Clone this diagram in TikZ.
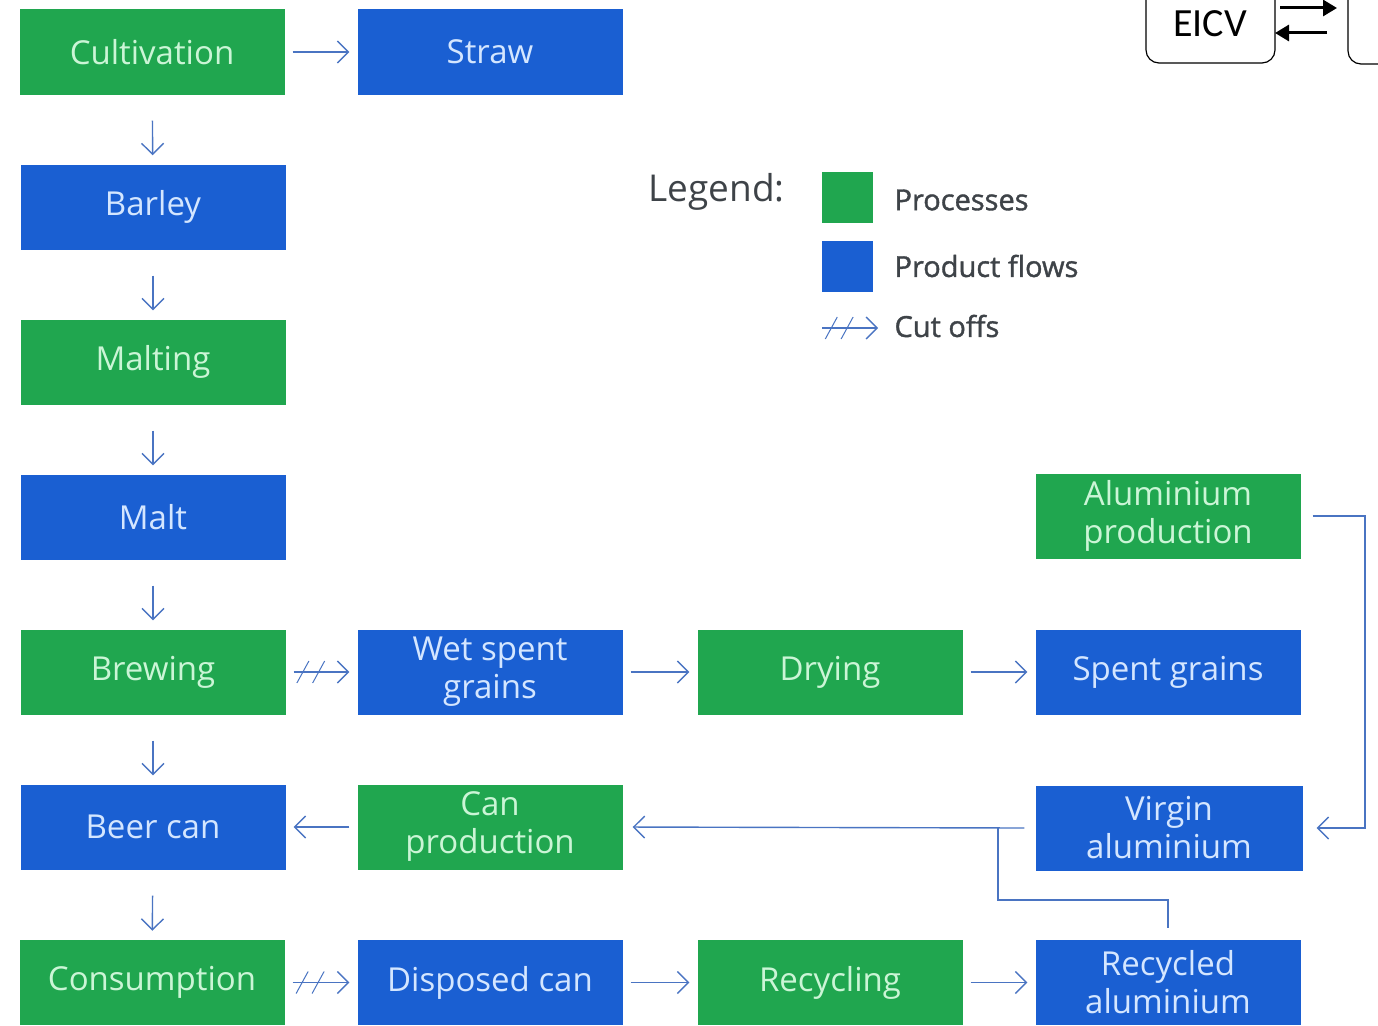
\documentclass[tikz,border=0pt]{standalone}
\usepackage{fontspec}
\setmainfont{Open Sans}
\newfontfamily\legfont[FakeBold=1.3]{Open Sans}
\newfontfamily\calibrilike{Carlito}
\usetikzlibrary{arrows.meta,decorations.markings}
\definecolor{procgreen}{HTML}{20A64F}
\definecolor{flowblue}{HTML}{1A5FD2}
\definecolor{proctext}{HTML}{CBF5D6}
\definecolor{flowtext}{HTML}{D4E6FF}
\definecolor{linkblue}{HTML}{4A74C2}
\definecolor{legendgray}{HTML}{3E4348}
\tikzset{
  box/.style={minimum width=265pt, minimum height=85pt, inner sep=0pt,
    align=center, font=\fontsize{33}{38}\selectfont},
  proc/.style={box, fill=procgreen, text=proctext},
  prod/.style={box, fill=flowblue, text=flowtext},
  flow/.style={draw=linkblue, line width=1.4pt,
    -{Straight Barb[length=11pt,width=22pt,line width=1.4pt]}},
  hflow/.style={flow, shorten <=8pt, shorten >=8pt},
  vflow/.style={flow, shorten <=26pt, shorten >=9pt},
  slash/.style={draw=linkblue, line width=1pt, -, shorten <=0pt, shorten >=0pt},
  cutoff/.style={hflow, postaction={decorate},
    decoration={markings,
      mark=at position 0.24 with {\draw[slash] (-6pt,-11pt) -- (6pt,11pt);},
      mark=at position 0.46 with {\draw[slash] (-6pt,-11pt) -- (6pt,11pt);}}},
  legtext/.style={anchor=west, text=legendgray, font=\legfont\fontsize{29}{32}\selectfont},
  eicvbox/.style={draw=black, line width=1.2pt, rounded corners=13pt},
  eicvarrow/.style={draw=black, line width=3pt, -{Triangle[length=14pt,width=16pt]}}
}
\begin{document}
\begin{tikzpicture}[x=1pt, y=-1pt]
\useasboundingbox (0,0) rectangle (1378,1025);

% main chain
\node[proc] (cult) at (152,52) {Cultivation};
\node[prod] (barley) at (153,207) {Barley};
\node[proc] (malting) at (153,362) {Malting};
\node[prod] (malt) at (153,517) {Malt};
\node[proc] (brew) at (153,672) {Brewing};
\node[prod] (beercan) at (153,827) {Beer can};
\node[proc] (consum) at (152,982.5) {Consumption};

% side branches
\node[prod] (straw) at (490,52) {Straw};
\node[prod] (wsg) at (490,672) {Wet spent\\grains};
\node[proc] (canprod) at (490,827) {Can\\production};
\node[prod] (disposed) at (490,982.5) {Disposed can};
\node[proc] (drying) at (830,672) {Drying};
\node[proc] (recycling) at (830,982.5) {Recycling};
\node[proc] (alprod) at (1168,516) {Aluminium\\production};
\node[prod] (spent) at (1168,672) {Spent grains};
\node[prod, minimum width=267pt] (virgin) at (1169,828) {Virgin\\aluminium};
\node[prod] (recyc) at (1168,982.5) {Recycled\\aluminium};

% vertical flows
\draw[vflow] (cult) -- (barley);
\draw[vflow] (barley) -- (malting);
\draw[vflow] (malting) -- (malt);
\draw[vflow] (malt) -- (brew);
\draw[vflow] (brew) -- (beercan);
\draw[vflow] (beercan) -- (consum);

% horizontal flows
\draw[hflow] (cult) -- (straw);
\draw[cutoff] (brew) -- (wsg);
\draw[hflow] (wsg) -- (drying);
\draw[hflow] (drying) -- (spent);
\draw[hflow] (canprod) -- (beercan);
\draw[cutoff] (consum) -- (disposed);
\draw[hflow] (disposed) -- (recycling);
\draw[hflow] (recycling) -- (recyc);

% aluminium loop
\coordinate (join) at (998,828);
\draw[flow, shorten >=10pt] (virgin.west) ++(-11,0) -- (canprod.east);
\draw[flow] (alprod.east) ++(12,0) -- (1365,516) -- (1365,828) -- ([xshift=14pt]virgin.east);
\draw[draw=linkblue, line width=1.4pt] (recyc.north) ++(0,-12) -- (1168,900) -- (998,900) -- (join);

% legend
\node[anchor=west, text=legendgray, font=\fontsize{37}{42}\selectfont] (legtitle) at (645,192) {Legend:};
\node[fill=procgreen, minimum size=51pt, inner sep=0pt] (legproc) at (847.5,197.5) {};
\node[fill=flowblue, minimum size=51pt, inner sep=0pt] (legprod) at (847.5,266) {};
\node[legtext] (legproctxt) at (891,200) {Processes};
\node[legtext] (legprodtxt) at (891,266) {Product flows};
\node[legtext] (legcuttxt) at (891,326) {Cut offs};
\coordinate (legcutA) at (814,328);
\coordinate (legcutB) at (886,328);
\draw[cutoff] (legcutA) -- (legcutB);

% EICV corner
\node[font=\calibrilike\fontsize{40}{44}\selectfont, anchor=center] (eicv) at (1210,24) {EICV};
\draw[eicvbox] (1146,-20) |- (1275,63) -- (1275,-20);
\draw[eicvbox] (1348,-20) |- (1400,64);
\coordinate (eicvR1) at (1280,8);
\coordinate (eicvR2) at (1337,8);
\coordinate (eicvL1) at (1327,33);
\coordinate (eicvL2) at (1275,33);
\draw[eicvarrow] (eicvR1) -- (eicvR2);
\draw[eicvarrow] (eicvL1) -- (eicvL2);
\end{tikzpicture}
\end{document}
